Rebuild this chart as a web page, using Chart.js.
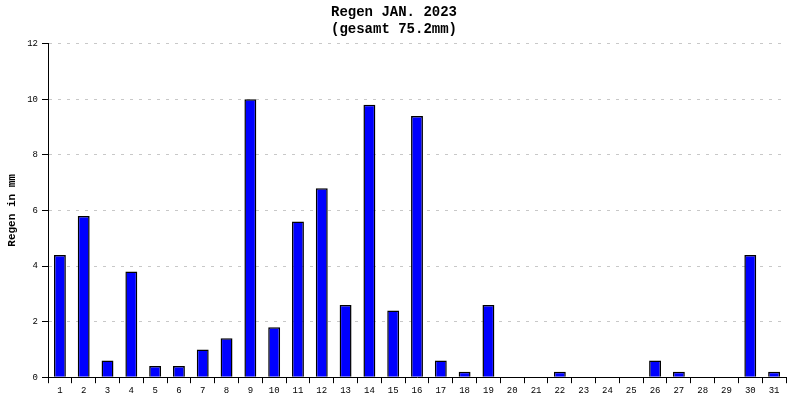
<!DOCTYPE html><html><head><script src="https://cdn.jsdelivr.net/npm/chart.js"></script>
<style>body{margin:0;background:#fff}#w{width:800px;height:400px}</style></head><body><div id="w"><canvas id="c"></canvas></div>
<script>
const days=["1","2","3","4","5","6","7","8","9","10","11","12","13","14","15","16","17","18","19","20","21","22","23","24","25","26","27","28","29","30","31"];
const rain=[4.4,5.8,0.6,3.8,0.4,0.4,1.0,1.4,10.0,1.8,5.6,6.8,2.6,9.8,2.4,9.4,0.6,0.2,2.6,0,0,0.2,0,0,0,0.6,0.2,0,0,4.4,0.2];
const yTicks=[0,2,4,6,8,10,12];
const F="'Liberation Mono','DejaVu Sans Mono',monospace";
new Chart(document.getElementById('c'),{type:'bar',
data:{labels:days,datasets:[{data:rain,backgroundColor:'#0000ff',borderColor:'#000',borderWidth:1.5,barPercentage:0.5,categoryPercentage:1}]},
options:{responsive:true,maintainAspectRatio:false,animation:false,
layout:{padding:{left:2,right:14,top:0,bottom:2}},
plugins:{legend:{display:false},tooltip:{enabled:false},
title:{display:true,text:['Regen JAN. 2023','(gesamt 75.2mm)'],color:'#000',font:{family:F,size:14,weight:'bold'},padding:{top:4,bottom:6}}},
scales:{
x:{offset:true,grid:{offset:true,drawOnChartArea:false,color:'#000',tickLength:6},border:{color:'#000',width:1},ticks:{color:'#000',font:{family:F,size:9},padding:2,maxRotation:0,autoSkip:false}},
y:{min:0,max:12,afterBuildTicks:a=>{a.ticks=yTicks.map(v=>({value:v}));},grid:{color:'#c8c8c8',tickColor:'#000',tickLength:6,tickBorderDash:[0,0]},border:{color:'#000',width:1,dash:[3,6]},
ticks:{color:'#000',font:{family:F,size:9},padding:4},
title:{display:true,text:'Regen in mm',color:'#000',font:{family:F,size:11,weight:'bold'}}}}}
});
</script></body></html>
